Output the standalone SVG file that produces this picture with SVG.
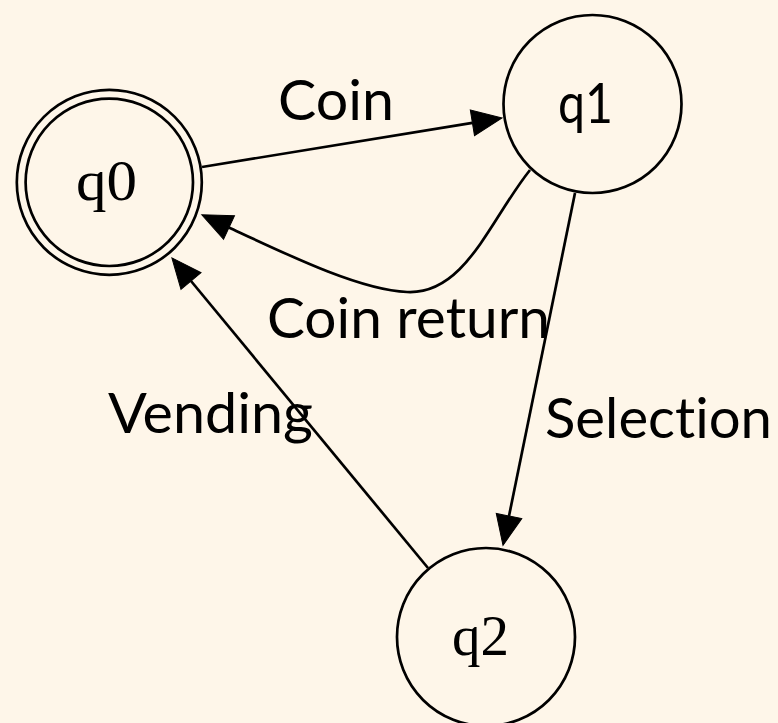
<svg xmlns="http://www.w3.org/2000/svg" width="778" height="723" viewBox="0 0 778 723">
<style>
.node{fill:none;stroke:#000;stroke-width:2.7}
.edge{fill:none;stroke:#000;stroke-width:2.7}
.serif{font-family:"Liberation Serif","Times New Roman",serif;font-size:58px;font-weight:400;fill:#000}
.sans{font-family:Lato,"Open Sans","Liberation Sans",sans-serif;font-size:56px;font-weight:400;fill:#000;font-variant-ligatures:none}
</style>
<defs>
<marker id="arr" markerUnits="userSpaceOnUse" markerWidth="31" markerHeight="26" refX="0" refY="13" orient="auto" overflow="visible">
<path d="M0,0 L30,13 L0,26 Z" fill="#000" stroke="#000" stroke-width="1"/>
</marker>
</defs>
<rect width="778" height="723" fill="#fef6e9"/>
<g id="edges">
<path class="edge" d="M202,167 L472.4,122.8" marker-end="url(#arr)"/>
<path class="edge" d="M530,170 C490,220 465,295 407,292 C360,290 290,256 229,227.5" marker-end="url(#arr)"/>
<path class="edge" d="M575,193 L509,516" marker-end="url(#arr)"/>
<path class="edge" d="M428,568 L191,281" marker-end="url(#arr)"/>
<text class="sans" x="278" y="120" textLength="116" lengthAdjust="spacingAndGlyphs">Coin</text>
<text class="sans" x="267" y="338" textLength="283" lengthAdjust="spacingAndGlyphs">Coin return</text>
<text class="sans" x="545" y="438" textLength="227" lengthAdjust="spacingAndGlyphs">Selection</text>
<text class="sans" x="108" y="433" textLength="205" lengthAdjust="spacingAndGlyphs">Vending</text>
</g>
<g id="q0">
<circle class="node" cx="109.3" cy="182.3" r="92.5"/>
<circle class="node" cx="109.3" cy="182.3" r="83.7"/>
<text class="serif" x="76" y="200" textLength="61" lengthAdjust="spacingAndGlyphs">q0</text>
</g>
<g id="q1">
<circle class="node" cx="592.5" cy="104" r="89"/>
<text class="sans" x="558" y="123" textLength="55" lengthAdjust="spacingAndGlyphs">q1</text>
</g>
<g id="q2">
<circle class="node" cx="486" cy="637" r="89"/>
<text class="serif" x="452" y="655" textLength="57" lengthAdjust="spacingAndGlyphs">q2</text>
</g>
</svg>
